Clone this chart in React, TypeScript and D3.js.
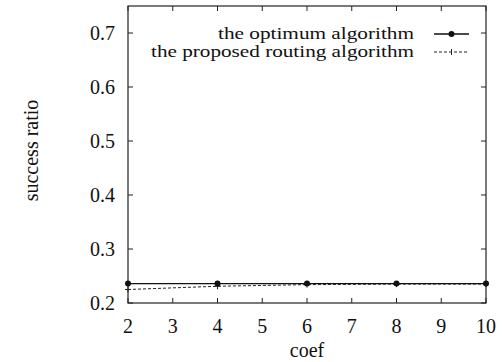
import React from "react";
import { scaleLinear, line } from "d3";

// values
const coef = [2, 4, 6, 8, 10];
const optimum = [0.236, 0.236, 0.236, 0.236, 0.236];
const proposed = [0.225, 0.231, 0.234, 0.235, 0.235];
const xTicks = [2, 3, 4, 5, 6, 7, 8, 9, 10];
const yTicks = [0.2, 0.3, 0.4, 0.5, 0.6, 0.7];
const seriesNames = ["the optimum algorithm", "the proposed routing algorithm"];

const W = 502;
const H = 362;
const txt = { fontFamily: "'Liberation Serif', 'Times New Roman', serif", fontSize: 20, fill: "#111" };

const App = () => {
  const x = scaleLinear().domain([2, 10]).range([128, 486]);
  const y = scaleLinear().domain([0.2, 0.75]).range([303, 6]);
  const [x0, x1] = x.range();
  const [yb, yt] = y.range();

  const pts = (vals: number[]) => coef.map((c, i) => ({ x: c, y: vals[i] }));
  const gen = line<{ x: number; y: number }>()
    .x(d => x(d.x))
    .y(d => y(d.y));

  const tickLen = 5;
  const legendX = 414;
  const legendY = [39, 57];
  const legendW = [196, 263];
  const sample = [434, 469];
  const mid = (sample[0] + sample[1]) / 2;

  return (
    <svg width={W} height={H} style={{ position: "absolute", left: 0, top: 0, background: "#fff" }}>
      <rect x={0} y={0} width={W} height={H} fill="#fff" />

      {/* ticks on all four sides, pointing in */}
      {xTicks.map(t => (
        <g key={"x" + t} stroke="#222" strokeWidth={1}>
          <line x1={x(t)} x2={x(t)} y1={yb} y2={yb - tickLen} />
          <line x1={x(t)} x2={x(t)} y1={yt} y2={yt + tickLen} />
        </g>
      ))}
      {yTicks.map(t => (
        <g key={"y" + t} stroke="#222" strokeWidth={1}>
          <line x1={x0} x2={x0 + tickLen} y1={y(t)} y2={y(t)} />
          <line x1={x1} x2={x1 - tickLen} y1={y(t)} y2={y(t)} />
        </g>
      ))}
      <rect x={x0} y={yt} width={x1 - x0} height={yb - yt} fill="none" stroke="#222" strokeWidth={1.2} />

      {xTicks.map(t => (
        <text key={"xl" + t} x={x(t)} y={333} textAnchor="middle" style={txt}>{t}</text>
      ))}
      {yTicks.map(t => (
        <text key={"yl" + t} x={115} y={y(t) + 7} textAnchor="end" style={txt}>{t.toFixed(1)}</text>
      ))}
      <text x={(x0 + x1) / 2} y={357} textAnchor="middle" style={txt}>coef</text>
      <text transform={`translate(38,${(yt + yb) / 2 - 4}) rotate(-90)`} textAnchor="middle" style={txt}>success ratio</text>

      {/* series */}
      <path d={gen(pts(proposed)) || ""} fill="none" stroke="#222" strokeWidth={1} strokeDasharray="3,2" />
      {pts(proposed).map((d, i) => (
        <g key={"pp" + i} stroke="#222" strokeWidth={1}>
          <line x1={x(d.x) - 3} x2={x(d.x) + 3} y1={y(d.y)} y2={y(d.y)} />
          <line x1={x(d.x)} x2={x(d.x)} y1={y(d.y) - 3} y2={y(d.y) + 3} />
        </g>
      ))}
      <path d={gen(pts(optimum)) || ""} fill="none" stroke="#111" strokeWidth={1.3} />
      {pts(optimum).map((d, i) => (
        <circle key={"op" + i} cx={x(d.x)} cy={y(d.y)} r={3} fill="#111" />
      ))}

      {/* legend */}
      {seriesNames.map((n, i) => (
        <text key={n} x={legendX} y={legendY[i]} textAnchor="end" textLength={legendW[i]}
          lengthAdjust="spacingAndGlyphs" style={{ ...txt, fontSize: 17 }}>{n}</text>
      ))}
      <line x1={sample[0]} x2={sample[1]} y1={legendY[0] - 5} y2={legendY[0] - 5} stroke="#111" strokeWidth={1.3} />
      <circle cx={mid} cy={legendY[0] - 5} r={3} fill="#111" />
      <line x1={sample[0]} x2={sample[1]} y1={legendY[1] - 5} y2={legendY[1] - 5} stroke="#222" strokeWidth={1} strokeDasharray="3,2" />
      <line x1={mid} x2={mid} y1={legendY[1] - 8} y2={legendY[1] - 2} stroke="#222" strokeWidth={1} />
    </svg>
  );
};

export default App;
